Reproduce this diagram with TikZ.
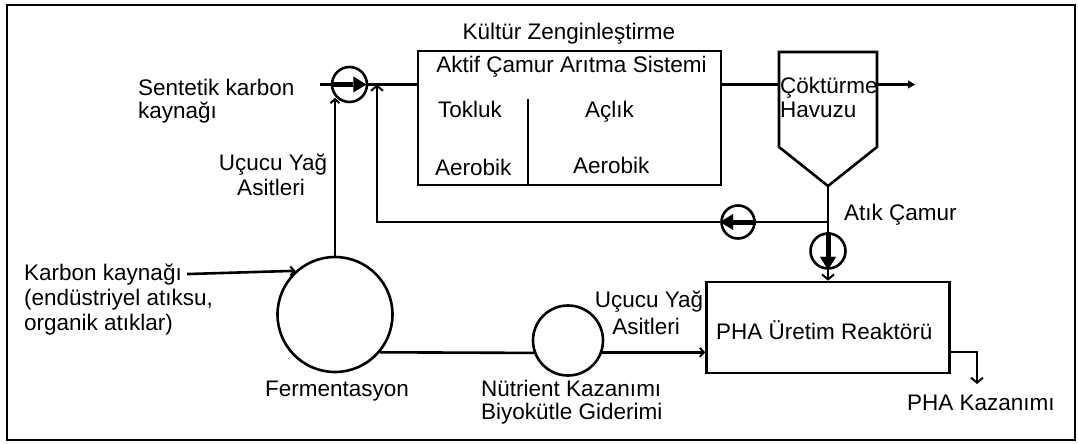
\documentclass[tikz,border=0pt]{standalone}
\usepackage{fontspec}
\setmainfont{Liberation Sans}
\usetikzlibrary{arrows.meta}
\begin{document}
\begin{tikzpicture}[x=1pt,y=-1pt,
  lbl/.style={inner sep=0pt,font=\fontsize{22.5}{25}\selectfont},
  ln/.style={line width=2.6pt},
  pump/.style={circle,draw,line width=2.6pt,minimum size=35pt,inner sep=0pt},
  box/.style={draw,line width=2.6pt,inner sep=0pt},
  barb/.style={-{Straight Barb[length=5pt,width=12pt,line width=2pt]}},
  sbarb/.style={-{Straight Barb[length=4pt,width=9pt,line width=2pt]}},
  parr/.style={line width=5pt,-{Triangle[length=13pt,width=16pt,line width=0.1pt]}},
]
\useasboundingbox (0,0) rectangle (1078,444);
\draw[line width=2.8pt] (7,5) rectangle (1075,440);

% main units
\node[pump] (pS) at (349.5,84.5) {};
\node[box,minimum width=303pt,minimum height=134pt] (akt) at (569.5,118) {};
\draw[ln] (528,99) -- (528,185);
\draw[ln,line join=miter] (779,52) -- (877,52) -- (877,147) -- (828,186) -- (779,147) -- cycle;
\coordinate (tl) at (779,84.5);
\coordinate (tr) at (877,84.5);
\coordinate (tb) at (828,186);
\coordinate (ex) at (915,84.5);
\node[pump,minimum size=33pt] (pR) at (738,222) {};
\node[pump] (pD) at (828,251) {};
\node[box,minimum width=243pt,minimum height=91pt] (pha) at (828,327.5) {};
\node[circle,draw,line width=2.6pt,minimum size=115pt,inner sep=0pt] (fer) at (335,314.5) {};
\node[circle,draw,line width=2.6pt,minimum size=70pt,inner sep=0pt] (nut) at (568,340.5) {};

% texts
\node[lbl,anchor=base] (tK) at (569,40) {Kültür Zenginleştirme};
\node[lbl,anchor=base] (tA) at (571.5,73) {Aktif Çamur Arıtma Sistemi};
\node[lbl,anchor=base west] (tT) at (438,117) {Tokluk};
\node[lbl,anchor=base west] (tC) at (585,117) {Açlık};
\node[lbl,anchor=base west] (tE1) at (435,175) {Aerobik};
\node[lbl,anchor=base west] (tE2) at (573,173) {Aerobik};
\node[lbl,anchor=base west] (tS1) at (138,95) {Sentetik karbon};
\node[lbl,anchor=base west] (tS2) at (138,118) {kaynağı};
\node[lbl,anchor=base] (tU1) at (273,170) {Uçucu Yağ};
\node[lbl,anchor=base] (tU2) at (271,195) {Asitleri};
\node[lbl,anchor=base west] (tH1) at (780,93) {Çöktürme};
\node[lbl,anchor=base west] (tH2) at (780,117) {Havuzu};
\node[lbl,anchor=base west] (tW) at (844,220) {Atık Çamur};
\node[lbl,anchor=base west] (k1) at (24,280) {Karbon kaynağı};
\node[lbl,anchor=base west] (k2) at (24,305) {(endüstriyel atıksu,};
\node[lbl,anchor=base west] (k3) at (24,330) {organik atıklar)};
\node[lbl,anchor=base] (tF) at (337,396) {Fermentasyon};
\node[lbl,anchor=base] (tV1) at (649,307) {Uçucu Yağ};
\node[lbl,anchor=base] (tV2) at (646,334) {Asitleri};
\node[lbl,anchor=base west] (tP) at (716,339) {PHA Üretim Reaktörü};
\node[lbl,anchor=base west] (tN1) at (481,396) {Nütrient Kazanımı};
\node[lbl,anchor=base west] (tN2) at (481,419) {Biyokütle Giderimi};
\node[lbl,anchor=base west] (tPK) at (907,410) {PHA Kazanımı};

% connectors
\coordinate (sIn) at (320,84.5);
\draw[ln] (sIn) -- (pS.west);
\draw[parr] (pS.west) -- ([xshift=-2pt]pS.east);
\draw[ln] (pS.east) -- (pS.east -| akt.west);
\draw[ln,sbarb] (fer.north) -- (fer.north |- pS.south west);
\draw[ln] (akt.east |- pS) -- (tl);
\draw[ln,-{Triangle[length=7pt,width=8pt,line width=0.1pt]}] (tr) -- (ex);
\coordinate (J) at (828,222);
\coordinate (rc) at (377,222);
\draw[ln] (tb) -- (J) -- (pD.north);
\draw[ln] (J) -- (pR.east);
\draw[parr] (pR.east) -- (pR.west);
\draw[ln,barb] (pR.west) -- (rc) -- (rc |- pS.east);
\draw[parr] (pD.north) -- (pD.south);
\draw[ln,barb] (pD.south) -- (pha.north);
\draw[ln,sbarb] ([xshift=5pt]k1.east) -- (fer.132.5);
\draw[ln] (fer.-40.7) -- (nut.-160.8);
\draw[ln,sbarb] (nut.-19.2) -- (nut.-19.2 -| pha.west);
\coordinate (po) at (pha.east |- 0,352);
\coordinate (pk) at (977,384);
\draw[ln,barb] (po) -| (pk);
\end{tikzpicture}
\end{document}
